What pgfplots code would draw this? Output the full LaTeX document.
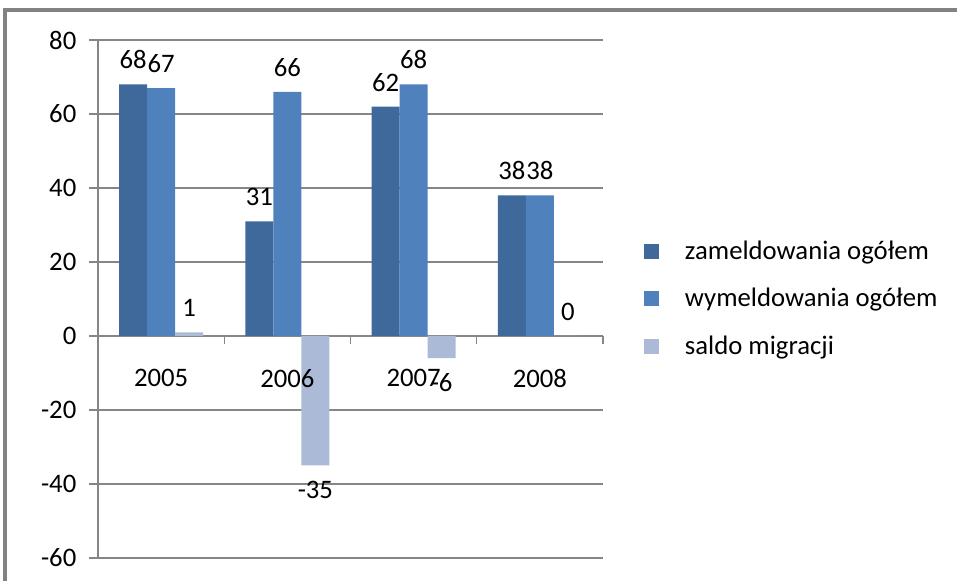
\documentclass[border=0pt]{standalone}
\usepackage{fontspec}
\setmainfont{Carlito}
\usepackage{pgfplots}
\pgfplotsset{compat=1.18}

\definecolor{zam}{RGB}{63,104,155}
\definecolor{wym}{RGB}{79,129,189}
\definecolor{sal}{RGB}{170,186,215}
\definecolor{gridc}{RGB}{134,134,134}
\definecolor{framec}{RGB}{130,130,130}

\newcommand{\fs}{\fontsize{15.2}{17}\selectfont}

\pgfplotsset{
  sq legend/.style={legend image code/.code={\fill[##1] (0cm,-0.15cm) rectangle (0.3cm,0.15cm);}},
  frame/.style={
    at={(1.96cm,0.44cm)}, anchor=south west,
    scale only axis, width=10.1cm, height=10.36cm,
    xmin=-0.5, xmax=3.5, ymin=-60, ymax=80,
    /pgf/number format/assume math mode=true,
    every tick label/.append style={font=\fs, text=black},
  },
}

\begin{document}
\begin{tikzpicture}
\useasboundingbox (0,0) rectangle (19.14,11.6);
\draw[framec, line width=2.2pt] (0.1,-1) -- (0.1,11.4) -- (20,11.4);
\begin{axis}[
  frame,
  ybar=0pt, bar width=0.56cm,
  ytick={-60,-40,...,80},
  xtick={0.5,1.5,2.5,3.5}, xticklabels={},
  xtick style={draw=gridc, line width=0.6pt}, 
  axis y line*=left, axis x line*=middle,
  axis line style={gridc, line width=0.6pt},
  ytick style={gridc, line width=0.6pt},
  major tick length=0.17cm,
  tick align=outside,
  ymajorgrids, grid style={gridc, line width=0.6pt},
  yticklabel style={xshift=-0.14cm},
  nodes near coords,
  nodes near coords style={font=\fs, text=black, inner ysep=0.3cm, inner xsep=0pt},
  legend style={draw=none, fill=none, at={(1.07,0.5)}, anchor=west, font=\fs,
    row sep=0.38cm, /tikz/every odd column/.style={column sep=0.45cm}},
  legend cell align=left,
]
\addplot[fill=zam, draw=none, sq legend] coordinates {(0,68) (1,31) (2,62) (3,38)};
\addplot[fill=wym, draw=none, sq legend] coordinates {(0,67) (1,66) (2,68) (3,38)};
\addplot[fill=sal, draw=none, sq legend] coordinates {(0,1) (1,-35) (2,-6) (3,0)};
\legend{zameldowania ogółem, wymeldowania ogółem, saldo migracji}
\end{axis}
% second pass: year labels drawn over the bars
\begin{axis}[
  frame,
  axis y line=none, axis x line*=middle,
  axis line style={draw=none},
  ytick=\empty,
  xtick={0,1,2,3}, xticklabels={2005,2006,2007,2008},
  xtick style={draw=none},
  xticklabel style={yshift=-0.54cm},
]
\end{axis}
\end{tikzpicture}
\end{document}
